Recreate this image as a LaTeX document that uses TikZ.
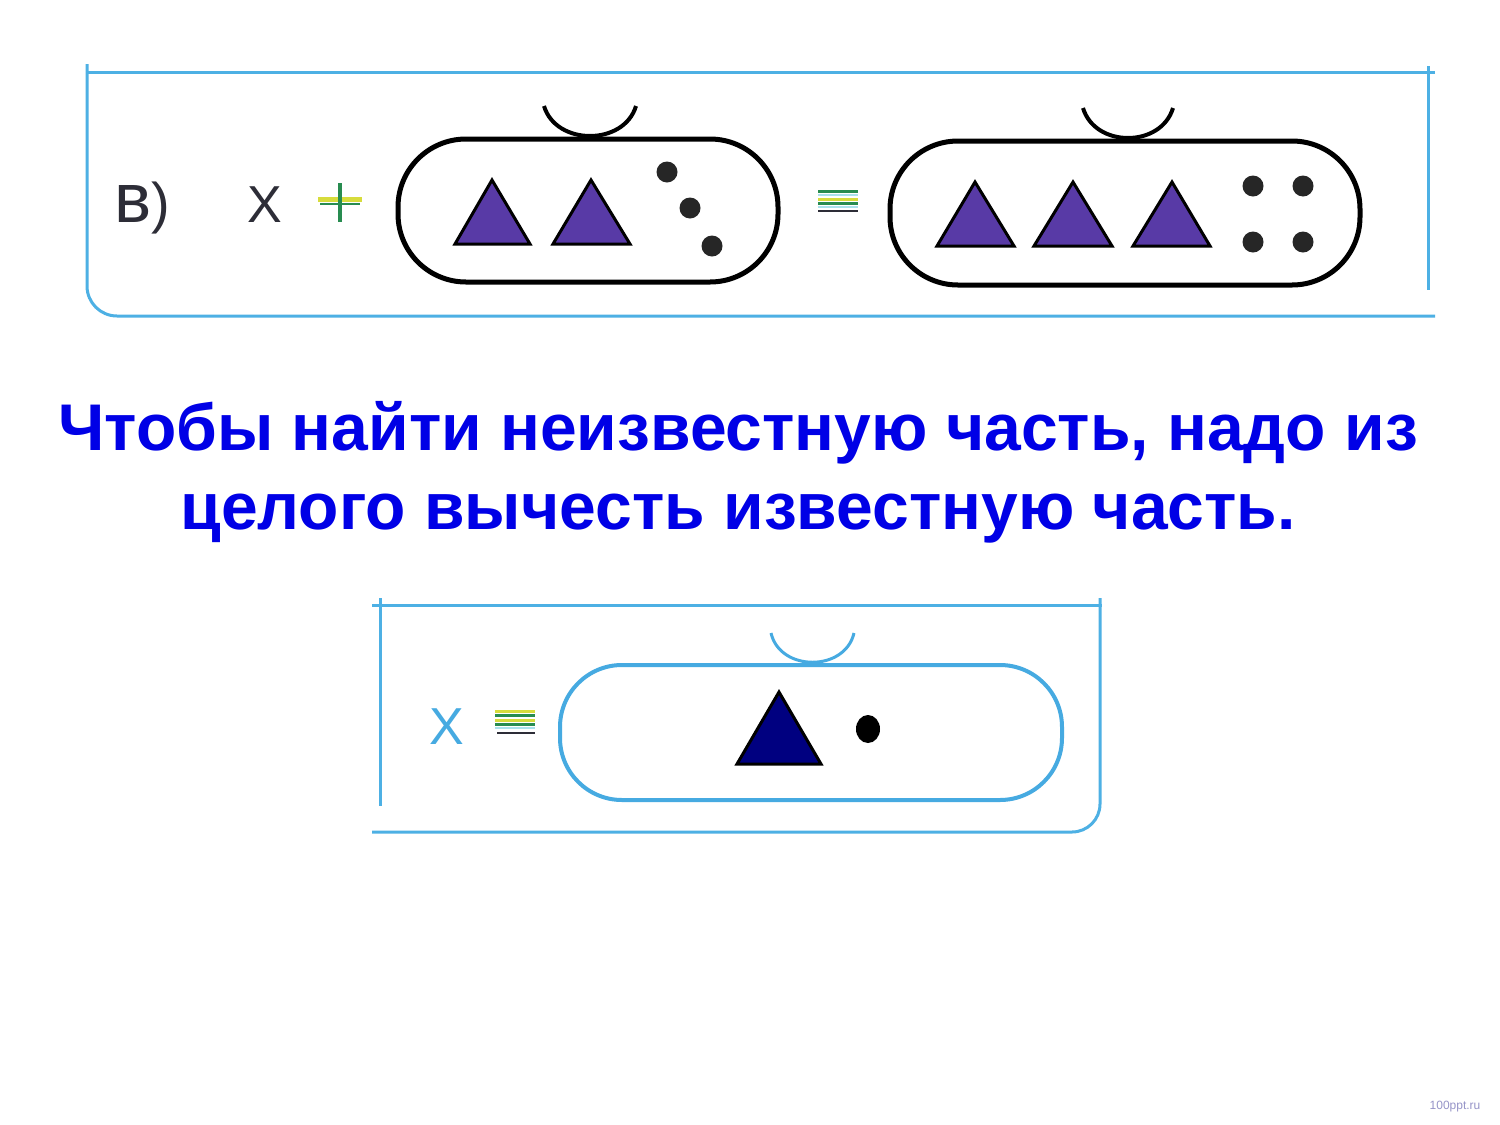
\documentclass[tikz,border=0pt]{standalone}
\usepackage{fontspec}
\setmainfont{Liberation Sans}
\definecolor{frameblue}{RGB}{77,176,228}
\definecolor{ovalblue}{RGB}{70,170,225}
\definecolor{trifill}{RGB}{88,58,166}
\definecolor{navy}{RGB}{0,0,128}
\definecolor{textblue}{RGB}{0,0,230}
\definecolor{darkgray}{RGB}{45,45,55}
\definecolor{signgreen}{RGB}{40,140,80}
\definecolor{signyellow}{RGB}{215,220,60}
\definecolor{signcyan}{RGB}{170,225,235}
\definecolor{wmark}{RGB}{150,148,200}
\tikzset{
  frameline/.style={draw=frameblue,line width=3pt},
  ovalblack/.style={draw=black,line width=5pt,rounded corners=68pt},
  ovallight/.style={draw=ovalblue,line width=4pt,rounded corners=62pt},
  tri/.style={draw=black,line width=3pt,fill=trifill,line join=miter},
  trinavy/.style={draw=black,line width=3pt,fill=navy,line join=miter},
  label/.style={font=\fontsize{52}{60}\selectfont,inner sep=0pt,anchor=base},
  rule/.style={font=\bfseries\fontsize{66}{80}\selectfont,text=textblue,inner sep=0pt,anchor=base}
}
\begin{document}
\begin{tikzpicture}[x=1pt,y=-1pt]
\useasboundingbox[fill=white] (0,0) rectangle (1500,1125);

% ---------- top frame ----------
\draw[frameline] (87,72) -- (1435,72);
\draw[frameline] (1428,66) -- (1428,290);
\draw[frameline,rounded corners=30pt] (87,64) -- (87,316) -- (1435,316);

\node[label,text=darkgray] (v) at (142,222) {{\fontsize{70}{70}\selectfont в}{\fontsize{56}{60}\selectfont)}};
\node[label,text=darkgray] (x1) at (265,222) {X};

% plus sign
\draw[signyellow,line width=5pt] (318,199) -- (362,199);
\draw[signgreen,line width=2pt] (320,204) -- (360,204);
\draw[signgreen,line width=4pt] (340,183) -- (340,222);

% first oval
\draw[ovalblack] (398,139) rectangle (778,282);
\draw[black,line width=4pt] (544,106) .. controls (556,146) and (624,146) .. (636,106);
\draw[tri] (492,180) -- (530,244) -- (455,244) -- cycle;
\draw[tri] (591,180) -- (630,244) -- (553,244) -- cycle;
\fill[black!85] (667,172) circle[radius=10.5pt];
\fill[black!85] (690,208) circle[radius=10.5pt];
\fill[black!85] (712,246) circle[radius=10.5pt];

% equals sign (top)
\draw[signgreen,line width=3pt] (818,191) -- (858,191);
\draw[signcyan,line width=2pt] (818,195) -- (858,195);
\draw[signyellow,line width=3pt] (818,199) -- (858,199);
\draw[signgreen,line width=3pt] (818,203) -- (858,203);
\draw[signcyan,line width=2pt] (818,207) -- (858,207);
\draw[darkgray,line width=1.5pt] (818,211) -- (858,211);

% second oval
\draw[ovalblack] (890,141) rectangle (1360,285);
\draw[black,line width=4pt] (1083,108) .. controls (1095,148) and (1161,148) .. (1173,108);
\draw[tri] (975,182) -- (1014,246) -- (937,246) -- cycle;
\draw[tri] (1073,182) -- (1112,246) -- (1034,246) -- cycle;
\draw[tri] (1172,182) -- (1210,246) -- (1133,246) -- cycle;
\fill[black!85] (1253,186) circle[radius=10.5pt];
\fill[black!85] (1303,186) circle[radius=10.5pt];
\fill[black!85] (1253,242) circle[radius=10.5pt];
\fill[black!85] (1303,242) circle[radius=10.5pt];

% ---------- rule text ----------
\node[rule] (r1) at (738,450) {Чтобы найти неизвестную часть, надо из};
\node[rule] (r2) at (738,529) {целого вычесть известную часть.};

% ---------- bottom frame ----------
\draw[frameline] (372,605) -- (1102,605);
\draw[frameline] (380,598) -- (380,806);
\draw[frameline,rounded corners=28pt] (1100,598) -- (1100,832) -- (372,832);

\node[label,text=ovalblue] (x2) at (447,744) {X};
\draw[signyellow,line width=3pt] (495,711) -- (535,711);
\draw[signgreen,line width=3pt] (495,715) -- (535,715);
\draw[signyellow,line width=3pt] (495,720) -- (535,720);
\draw[signgreen,line width=3pt] (495,724) -- (535,724);
\draw[signcyan,line width=2pt] (495,728) -- (535,728);
\draw[darkgray,line width=1.5pt] (497,733) -- (535,733);

\draw[ovallight] (560,665) rectangle (1062,800);
\draw[ovalblue,line width=3pt] (771,633) .. controls (780,672) and (845,672) .. (854,633);
\draw[trinavy] (779,692) -- (821,764) -- (737,764) -- cycle;
\fill[black] (868,729) ellipse[x radius=12pt,y radius=14pt];

% watermark
\node[font=\fontsize{12}{14}\selectfont,text=wmark,inner sep=0pt] (wm) at (1455,1107) {100ppt.ru};
\end{tikzpicture}
\end{document}
